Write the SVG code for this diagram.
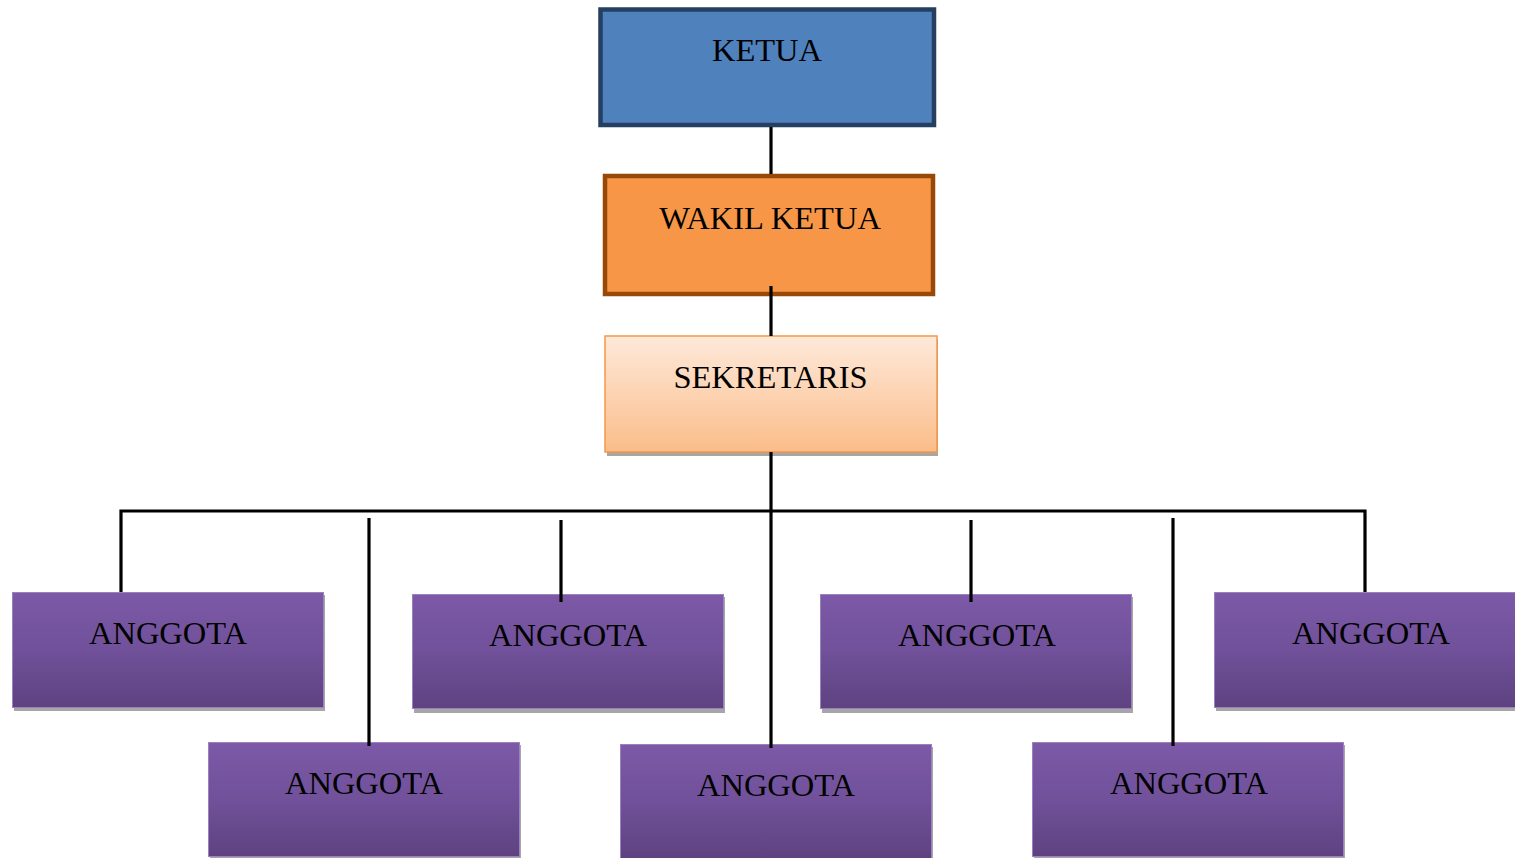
<svg xmlns="http://www.w3.org/2000/svg" width="1515" height="858" viewBox="0 0 1515 858">
<defs>
<linearGradient id="gPurple" x1="0" y1="0" x2="0" y2="1">
<stop offset="0" stop-color="#7D59A7"/>
<stop offset="0.5" stop-color="#70519A"/>
<stop offset="1" stop-color="#5E4280"/>
</linearGradient>
<linearGradient id="gPeach" x1="0" y1="0" x2="0" y2="1">
<stop offset="0" stop-color="#FEE9DA"/>
<stop offset="1" stop-color="#FBBD8A"/>
</linearGradient>
</defs>
<style>
text{font-family:"Liberation Serif","Times New Roman",serif;font-size:32.5px;fill:#000;text-anchor:middle}
.shadow{fill:#A6A6A6}
.member{fill:url(#gPurple);stroke:#9A82BE;stroke-width:1}
.conn{stroke:#000;stroke-width:3.2;fill:none}
</style>
<rect width="1515" height="858" fill="#FFFFFF"/>
<g id="ketua">
<rect x="600.5" y="9.5" width="333.5" height="115.5" fill="#4F81BD" stroke="#243F60" stroke-width="4.5"/>
<text x="767" y="61">KETUA</text>
</g>
<g id="wakil-ketua">
<rect x="605" y="176" width="328" height="118" fill="#F79646" stroke="#984807" stroke-width="4.5"/>
<text x="770" y="229">WAKIL KETUA</text>
</g>
<g id="sekretaris">
<rect class="shadow" x="607" y="339" width="331" height="117"/>
<rect x="605" y="336" width="332" height="116" fill="url(#gPeach)" stroke="#F79646" stroke-width="1.5"/>
<text x="770.5" y="388">SEKRETARIS</text>
</g>
<g id="anggota-1">
<rect class="shadow" x="14" y="595" width="311" height="116"/>
<rect class="member" x="12.5" y="592.5" width="311" height="115"/>
<text x="168" y="644">ANGGOTA</text>
</g>
<g id="anggota-2">
<rect class="shadow" x="414" y="597" width="311" height="116"/>
<rect class="member" x="412.5" y="594.5" width="311" height="114"/>
<text x="568" y="646">ANGGOTA</text>
</g>
<g id="anggota-3">
<rect class="shadow" x="822" y="597" width="311" height="116"/>
<rect class="member" x="820.5" y="594.5" width="311" height="114"/>
<text x="977" y="646">ANGGOTA</text>
</g>
<g id="anggota-4">
<rect class="shadow" x="1216" y="595" width="311" height="116"/>
<rect class="member" x="1214.5" y="592.5" width="311" height="115"/>
<text x="1371" y="644">ANGGOTA</text>
</g>
<g id="anggota-5">
<rect class="shadow" x="210" y="745" width="311" height="116"/>
<rect class="member" x="208.5" y="742.5" width="311" height="114"/>
<text x="364" y="794">ANGGOTA</text>
</g>
<g id="anggota-6">
<rect class="shadow" x="622" y="747" width="311" height="116"/>
<rect class="member" x="620.5" y="744.5" width="311" height="114"/>
<text x="776" y="796">ANGGOTA</text>
</g>
<g id="anggota-7">
<rect class="shadow" x="1034" y="745" width="311" height="116"/>
<rect class="member" x="1032.5" y="742.5" width="311" height="114"/>
<text x="1189" y="794">ANGGOTA</text>
</g>
<g id="connectors">
<line class="conn" x1="771" y1="127" x2="771" y2="174"/>
<line class="conn" x1="771" y1="286" x2="771" y2="336"/>
<line class="conn" x1="771" y1="452" x2="771" y2="511"/>
<polyline class="conn" points="121,592 121,511 1365,511 1365,592"/>
<line class="conn" x1="369" y1="518" x2="369" y2="746"/>
<line class="conn" x1="561" y1="520" x2="561" y2="602"/>
<line class="conn" x1="771" y1="511" x2="771" y2="748"/>
<line class="conn" x1="971" y1="520" x2="971" y2="602"/>
<line class="conn" x1="1173" y1="518" x2="1173" y2="746"/>
</g>
</svg>
